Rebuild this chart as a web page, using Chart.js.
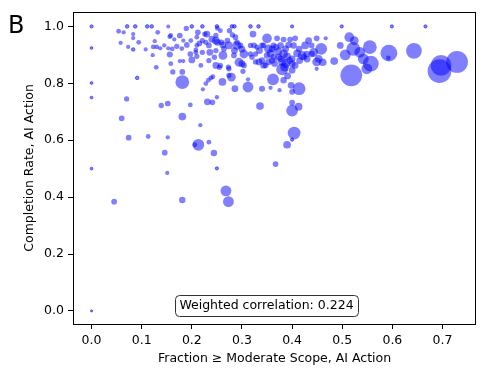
<!DOCTYPE html>
<html>
<head>
<meta charset="utf-8">
<script src="https://cdn.jsdelivr.net/npm/chart.js@4.4.0/dist/chart.umd.min.js"></script>
<style>
  body { margin: 0; background: #fff; }
  canvas { display: block; }
</style>
</head>
<body>
<canvas id="scopeChart" width="488" height="376"></canvas>
<script>
// fraction of conversations with >= moderate scope (x), completion rate (y), weight (marker area)
const fracScope = [
  0, 0, 0, 0, 0, 0,
  0.071, 0.087, 0.111, 0.120, 0.153, 0.200, 0.221, 0.250, 0.280, 0.285, 0.317, 0.333, 0.400, 0.499, 0.599, 0.666,
  0.054, 0.064, 0.083, 0.083, 0.058, 0.073, 0.083, 0.094, 0.132, 0.108, 0.123, 0.130, 0.122, 0.126, 0.137, 0.145,
  0.129, 0.091, 0.070, 0.139, 0.152, 0.156, 0.156, 0.158, 0.162, 0.165, 0.176, 0.180, 0.181, 0.181, 0.189, 0.183,
  0.176, 0.183, 0.197, 0.200, 0.210, 0.212, 0.210, 0.210, 0.208, 0.226, 0.230, 0.228, 0.234, 0.236, 0.251, 0.248,
  0.251, 0.259, 0.262, 0.264, 0.245, 0.248, 0.255, 0.261, 0.279, 0.286, 0.312, 0.273, 0.284, 0.275, 0.281, 0.287,
  0.290, 0.297, 0.304, 0.294, 0.300, 0.302, 0.322, 0.324, 0.317, 0.327, 0.334, 0.340, 0.350, 0.353, 0.340, 0.347,
  0.362, 0.231, 0.241, 0.197, 0.336,
  0.060, 0.181, 0.217, 0.074, 0.113, 0.152, 0.213, 0.206, 0.234, 0.146, 0.244, 0.367, 0.151, 0.250, 0.268, 0.273,
  0.045, 0.181, 0.400, 0.413, 0.400, 0.404, 0.390, 0.400,
  0.228, 0.233, 0.238, 0.242, 0.222, 0.250, 0.312, 0.357, 0.375, 0.380, 0.385, 0.391, 0.398, 0.414,
  0.370, 0.383, 0.396, 0.406, 0.360, 0.368, 0.377, 0.387, 0.393, 0.383, 0.373, 0.360, 0.387, 0.400, 0.426, 0.433,
  0.439, 0.449, 0.467, 0.420, 0.429, 0.443, 0.458, 0.453, 0.461, 0.449, 0.484,
  0.317, 0.330, 0.343, 0.363, 0.403, 0.414, 0.439, 0.423, 0.320, 0.340, 0.350, 0.363, 0.377, 0.400, 0.406, 0.327,
  0.343, 0.353, 0.400, 0.449, 0.496, 0.383, 0.400,
  0.158, 0.153, 0.161, 0.198, 0.257, 0.248, 0.271, 0.274, 0.290, 0.221, 0.208, 0.221, 0.248, 0.234, 0.218, 0.257,
  0.274, 0.304, 0.274,
  0.335, 0.357, 0.372, 0.390, 0.410, 0.395, 0.365, 0.380, 0.415, 0.430, 0.300, 0.285, 0.262, 0.240, 0.215, 0.190,
  0.170,
  0.514, 0.524, 0.506, 0.522, 0.535, 0.555, 0.542, 0.549, 0.557, 0.518, 0.593, 0.592, 0.643, 0.694, 0.697, 0.729
];
const completion = [
  1.0, 0.924, 0.801, 0.750, 0.500, 0.0,
  1.0, 1.0, 1.0, 1.0, 1.0, 1.0, 1.0, 1.0, 1.0, 1.0, 1.0, 1.0, 1.0, 1.0, 1.0, 1.0,
  0.983, 0.979, 0.973, 0.959, 0.942, 0.928, 0.919, 0.944, 0.979, 0.919, 0.928, 0.928, 0.899, 0.948, 0.923, 0.933,
  0.856, 0.819, 0.745, 0.722, 0.729, 0.964, 0.901, 0.869, 0.840, 0.954, 0.968, 0.922, 0.840, 0.804, 0.993, 0.950,
  0.878, 0.878, 0.903, 0.882, 0.895, 0.979, 0.962, 0.933, 0.917, 0.973, 0.973, 0.944, 0.933, 0.909, 0.993, 0.968,
  0.944, 0.944, 0.898, 0.921, 0.892, 0.863, 0.856, 0.805, 0.822, 0.781, 0.787, 0.857, 0.898, 0.985, 0.970, 0.962,
  0.944, 0.933, 0.903, 0.874, 0.869, 0.842, 0.973, 0.933, 0.903, 0.903, 0.875, 0.781, 0.958, 0.921, 0.933, 0.863,
  0.814, 0.735, 0.733, 0.724, 0.720,
  0.677, 0.683, 0.653, 0.609, 0.613, 0.610, 0.584, 0.584, 0.593, 0.556, 0.555, 0.516, 0.485, 0.501, 0.422, 0.384,
  0.384, 0.390, 0.704, 0.718, 0.732, 0.625, 0.584, 0.602,
  0.799, 0.811, 0.819, 0.823, 0.779, 0.751, 0.814, 0.784, 0.776, 0.849, 0.857, 0.826, 0.793, 0.781,
  0.958, 0.954, 0.954, 0.958, 0.921, 0.927, 0.933, 0.921, 0.935, 0.903, 0.892, 0.880, 0.869, 0.869, 0.933, 0.950,
  0.933, 0.958, 0.958, 0.898, 0.903, 0.909, 0.921, 0.886, 0.874, 0.851, 0.878,
  0.933, 0.927, 0.933, 0.933, 0.933, 0.921, 0.903, 0.892, 0.892, 0.880, 0.898, 0.892, 0.886, 0.886, 0.863, 0.875,
  0.863, 0.875, 0.846, 0.875, 0.933, 0.811, 0.770,
  0.968, 0.923, 0.921, 0.950, 0.985, 0.950, 0.950, 0.933, 0.933, 0.950, 0.909, 0.909, 0.915, 0.880, 0.863, 0.863,
  0.851, 0.863, 0.828,
  0.915, 0.905, 0.912, 0.895, 0.905, 0.880, 0.870, 0.875, 0.880, 0.885, 0.920, 0.915, 0.935, 0.955, 0.940, 0.935,
  0.930,
  0.962, 0.950, 0.900, 0.921, 0.909, 0.927, 0.886, 0.851, 0.869, 0.828, 0.906, 0.889, 0.914, 0.843, 0.863, 0.875
];
const weights = [
  1.5, 1, 1, 1, 1, 0.5,
  2, 2, 2, 2, 2.5, 2, 2, 2, 2, 2, 2, 2, 1.5, 1.5, 1.5, 1.5,
  4, 3, 3, 3, 3, 3, 2, 4, 4, 3, 4, 4, 3, 3, 3, 3,
  4, 2, 5, 5, 6, 4, 7, 4, 5, 3, 6, 4, 6, 42, 5, 3,
  3, 3, 6, 9, 5, 6, 4, 4, 4, 5, 9, 5, 6, 9, 4, 5,
  9, 6, 16, 6, 5, 9, 5, 12, 16, 9, 25, 5, 6, 5, 5, 6,
  6, 6, 16, 16, 9, 5, 9, 6, 5, 5, 9, 7, 20, 16, 6, 6,
  30, 9, 6, 4, 12,
  6, 12, 3, 6, 4, 3, 30, 4, 4, 6, 8, 6, 3, 1.5, 25, 25,
  6, 8, 30, 12, 6, 36, 12, 1.5,
  4, 4, 4, 4, 3, 3, 3, 3, 3, 30, 16, 9, 9, 36,
  6, 6, 6, 6, 8, 8, 8, 9, 8, 16, 9, 8, 16, 9, 12, 9,
  6, 6, 3, 16, 8, 16, 30, 12, 12, 3, 12,
  5, 5, 6, 6, 8, 8, 8, 8, 5, 8, 8, 8, 8, 9, 9, 5,
  8, 8, 9, 16, 9, 8, 6,
  4, 3, 4, 4, 4, 12, 6, 12, 16, 5, 4, 5, 5, 5, 4, 5,
  5, 6, 5,
  9, 12, 12, 12, 12, 9, 9, 12, 9, 9, 9, 9, 9, 9, 6, 6,
  5,
  20, 16, 25, 42, 25, 42, 25, 25, 56, 110, 64, 4, 56, 132, 100, 110
];
const xTicks = [0.0, 0.1, 0.2, 0.3, 0.4, 0.5, 0.6, 0.7];
const yTicks = [0.0, 0.2, 0.4, 0.6, 0.8, 1.0];
const correlation = 0.224;

Chart.defaults.font.family = 'DejaVu Sans';
Chart.defaults.font.size = 12.5;
Chart.defaults.color = '#000';

const points = fracScope.map((x, i) => ({ x: x, y: completion[i], r: Math.sqrt(weights[i]) + 0.4 }));

// panel letter, frame and correlation box
const decorations = {
  id: 'decorations',
  afterDatasetsDraw(chart) {
    const { ctx, chartArea: a } = chart;
    ctx.save();
    ctx.strokeStyle = '#000';
    ctx.lineWidth = 1;
    ctx.strokeRect(Math.round(a.left) + 0.5, Math.round(a.top) + 0.5,
      Math.round(a.right - a.left) - 1, Math.round(a.bottom - a.top));

    ctx.font = '12.5px "DejaVu Sans"';
    const label = 'Weighted correlation: ' + correlation.toFixed(3);
    const tw = ctx.measureText(label).width;
    const cx = a.left + 0.48 * (a.right - a.left);
    const cy = a.bottom - 0.06 * (a.bottom - a.top);
    const bw = tw + 9, bh = 21;
    ctx.beginPath();
    ctx.roundRect(Math.round(cx - bw / 2) + 0.5, Math.round(cy - bh / 2) + 0.5, Math.round(bw), bh, 4);
    ctx.fillStyle = '#fff';
    ctx.fill();
    ctx.strokeStyle = '#333';
    ctx.stroke();
    ctx.fillStyle = '#000';
    ctx.textAlign = 'center';
    ctx.textBaseline = 'middle';
    ctx.fillText(label, cx, cy + 0.5);

    ctx.font = '24px "DejaVu Sans"';
    ctx.textAlign = 'left';
    ctx.textBaseline = 'alphabetic';
    ctx.fillText('B', 8, 33);
    ctx.restore();
  }
};

new Chart(document.getElementById('scopeChart'), {
  type: 'bubble',
  data: {
    datasets: [{
      data: points,
      backgroundColor: 'rgba(0, 0, 255, 0.5)',
      borderColor: 'rgba(0, 0, 255, 0.5)',
      borderWidth: ctx => (weights[ctx.dataIndex] <= 2 ? 1 : 0),
      hoverRadius: 0
    }]
  },
  options: {
    responsive: false,
    animation: false,
    events: [],
    layout: { padding: { left: 0, right: 10, top: 9, bottom: 0 } },
    plugins: {
      legend: { display: false },
      tooltip: { enabled: false }
    },
    scales: {
      x: {
        type: 'linear',
        min: -0.037,
        max: 0.767,
        afterFit: s => { s.height = 52; },
        afterBuildTicks: s => { s.ticks = xTicks.map(v => ({ value: v })); },
        ticks: { padding: 4, callback: v => v.toFixed(1), maxRotation: 0 },
        grid: { drawOnChartArea: false, tickLength: 5, color: '#000' },
        border: { display: false },
        title: {
          display: true,
          text: 'Fraction \u2265 Moderate Scope, AI Action',
          padding: { top: 0, bottom: 10 }
        }
      },
      y: {
        min: -0.046,
        max: 1.051,
        afterFit: s => { s.width = 73; },
        afterBuildTicks: s => { s.ticks = yTicks.map(v => ({ value: v })); },
        ticks: { padding: 4, callback: v => v.toFixed(1) },
        grid: { drawOnChartArea: false, tickLength: 5, color: '#000' },
        border: { display: false },
        title: {
          display: true,
          text: 'Completion Rate, AI Action',
          padding: { top: 22, bottom: 0 }
        }
      }
    }
  },
  plugins: [decorations]
});
</script>
</body>
</html>
